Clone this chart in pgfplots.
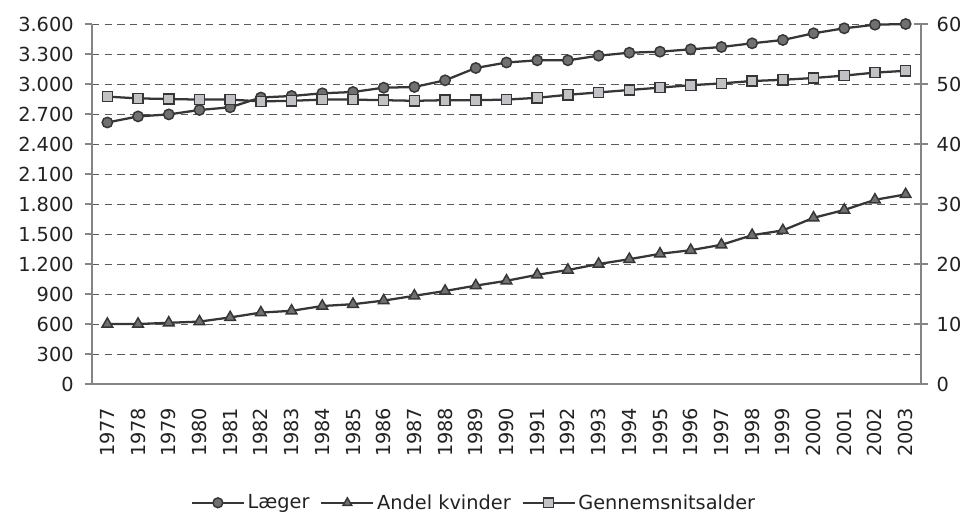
\documentclass[border=0pt]{standalone}
\usepackage{fontspec}
\setmainfont{DejaVu Sans}
\usepackage{pgfplots}
\usepackage{pgfplotstable}
\pgfplotsset{compat=1.18}

\definecolor{gridc}{HTML}{5A5A5A}
\definecolor{linec}{HTML}{363636}
\definecolor{darkfill}{HTML}{707070}
\definecolor{lightfill}{HTML}{C2C2C6}
\definecolor{axisc}{HTML}{858585}
\definecolor{textc}{HTML}{222222}

\pgfplotstableread{
idx year laeger kvinder alder
0  1977 2615 10.0 47.9
1  1978 2676 10.0 47.6
2  1979 2696 10.2 47.5
3  1980 2740 10.4 47.4
4  1981 2767 11.1 47.4
5  1982 2865 11.9 47.1
6  1983 2880 12.2 47.2
7  1984 2907 13.0 47.4
8  1985 2920 13.3 47.4
9  1986 2963 13.9 47.3
10 1987 2970 14.7 47.2
11 1988 3037 15.5 47.3
12 1989 3160 16.4 47.3
13 1990 3215 17.2 47.4
14 1991 3237 18.2 47.7
15 1992 3237 19.0 48.2
16 1993 3283 20.0 48.6
17 1994 3313 20.8 49.0
18 1995 3323 21.7 49.4
19 1996 3347 22.3 49.8
20 1997 3370 23.2 50.1
21 1998 3407 24.8 50.5
22 1999 3440 25.6 50.7
23 2000 3507 27.7 51.0
24 2001 3557 29.0 51.4
25 2002 3593 30.7 51.9
26 2003 3600 31.6 52.2
}\data

\pgfplotsset{
  base/.style={
    at={(0,0)}, anchor=south west,
    scale only axis, width=621.75pt, height=270pt,
    xmin=-0.5, xmax=26.5, ymin=0,
    clip=false,
    axis line style={-, axisc, line width=0.9pt},
    tick style={axisc, line width=0.9pt},
    tick label style={font=\fontsize{14.5}{17}\selectfont, text=textc},
    /pgf/number format/assume math mode=true,
  },
  laeger/.style={linec, line width=1.7pt, mark=*, mark size=3.9pt,
    mark options={solid, fill=darkfill, draw=linec, line width=1.1pt}},
  kvinder/.style={linec, line width=1.7pt, mark=triangle*, mark size=4.6pt,
    mark options={solid, fill=darkfill, draw=linec, line width=1.1pt}},
  alder/.style={linec, line width=1.7pt, mark=square*, mark size=3.8pt,
    mark options={solid, fill=lightfill, draw=linec, line width=1.1pt}},
}

\begin{document}
\begin{tikzpicture}
\path[use as bounding box] (-69pt,-98.25pt) rectangle (656.25pt,288pt);

\begin{axis}[base,
  ymax=3600, ytick={0,300,...,3600},
  axis x line*=bottom, axis y line*=left,
  tick align=outside, major tick length=5.25pt,
  xtick={0,...,26},
  xticklabels={1977,1978,1979,1980,1981,1982,1983,1984,1985,1986,1987,1988,1989,1990,1991,1992,1993,1994,1995,1996,1997,1998,1999,2000,2001,2002,2003},
  x tick label style={rotate=90, anchor=east, xshift=-9pt},
  y tick label style={xshift=-5pt},
  major x tick style={draw=none},
  ymajorgrids,
  grid style={gridc, dash pattern=on 5.5pt off 4pt, line width=0.7pt},
  /pgf/number format/1000 sep={.},
]
\addplot[laeger] table[x=idx, y=laeger] {\data};
\end{axis}

\begin{axis}[base,
  ymax=60, ytick={0,10,...,60},
  axis y line*=right, axis x line=none,
  tick align=center, major tick length=10.5pt,
  y tick label style={xshift=3pt},
  legend columns=3,
  legend style={at={(0.114,-0.33)}, anchor=west, draw=none, fill=none,
    font=\fontsize{14.5}{17}\selectfont, text=textc,
    /tikz/every even column/.append style={column sep=6pt}},
  legend image code/.code={
    \draw[#1, mark size=3.7pt, mark repeat=2, mark phase=2]
      plot coordinates {(0pt,0pt) (19.5pt,0pt) (39pt,0pt)};},
]
\addlegendimage{laeger}
\addplot[kvinder] table[x=idx, y=kvinder] {\data};
\addplot[alder] table[x=idx, y=alder] {\data};
\legend{Læger, Andel kvinder, Gennemsnitsalder}
\end{axis}
\end{tikzpicture}
\end{document}
